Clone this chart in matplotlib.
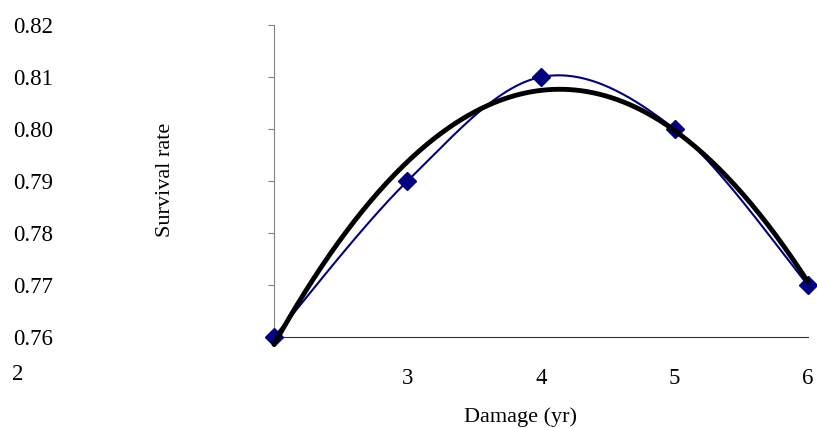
import numpy as np
import matplotlib
matplotlib.use("Agg")
import matplotlib.pyplot as plt

damage = [2, 3, 4, 5, 6]
survival = [0.76, 0.79, 0.81, 0.80, 0.77]
yticks = [0.76, 0.77, 0.78, 0.79, 0.80, 0.81, 0.82]
xticks = [3, 4, 5, 6]

plt.rcParams['font.family'] = ['Liberation Serif', 'DejaVu Serif']

C_LINE = '#000080'


def smooth_line(xs, ys, n=60):
    # Excel-style smoothed line: bezier segments, catmull-rom control points
    pts = np.column_stack([xs, ys]).astype(float)
    out = []
    for i in range(len(pts) - 1):
        p0 = pts[i - 1] if i > 0 else pts[i]
        p1 = pts[i]
        p2 = pts[i + 1]
        p3 = pts[i + 2] if i + 2 < len(pts) else pts[i + 1]
        c1 = p1 + (p2 - p0) / 6
        c2 = p2 - (p3 - p1) / 6
        t = np.linspace(0, 1, n)[:, None]
        seg = ((1 - t) ** 3) * p1 + 3 * ((1 - t) ** 2) * t * c1 + 3 * (1 - t) * t ** 2 * c2 + t ** 3 * p2
        out.append(seg if i == 0 else seg[1:])
    out = np.vstack(out)
    return out[:, 0], out[:, 1]


fig = plt.figure(figsize=(8.17, 4.28), dpi=100)
ax = fig.add_axes([274 / 817, 1 - 337 / 428, (808 - 274) / 817, (337 - 25) / 428])

sx, sy = smooth_line(damage, survival)
ax.plot(sx, sy, color=C_LINE, linewidth=1.5, clip_on=False, zorder=2)
ax.plot(damage, survival, linestyle='none', marker='D', markersize=9.5,
        color=C_LINE, clip_on=False, zorder=3)

coef = np.polyfit(damage, survival, 2)
tx = np.linspace(min(damage), max(damage), 200)
ax.plot(tx, np.polyval(coef, tx), color='black', linewidth=3.5,
        solid_capstyle='round', clip_on=False, zorder=4)

ax.set_xlim(2, 6)
ax.set_ylim(0.76, 0.82)
ax.spines['top'].set_visible(False)
ax.spines['right'].set_visible(False)
ax.spines['left'].set_color('#808080')
ax.spines['bottom'].set_color('#303030')

ax.set_yticks(yticks)
ax.set_yticklabels([f"{v:.2f}" for v in yticks])
ax.tick_params(axis='y', direction='out', length=4.3, color='#808080',
               labelsize=16.5, pad=155)

ax.set_xticks(xticks)
ax.set_xticklabels([str(v) for v in xticks])
ax.tick_params(axis='x', length=0, labelsize=16.5, pad=22)

# first x label sits at far left, as in the source chart
fig.text(17.5 / 817, 1 - 374 / 428, str(damage[0]), fontsize=16.5,
         ha='center', va='center')

fig.text(166 / 817, 1 - 180 / 428, "Survival rate", fontsize=16,
         rotation=90, ha='center', va='center')
fig.text(521 / 817, 1 - 417 / 428, "Damage (yr)", fontsize=16,
         ha='center', va='center')

fig.savefig("out.png", dpi=100, facecolor='white')
